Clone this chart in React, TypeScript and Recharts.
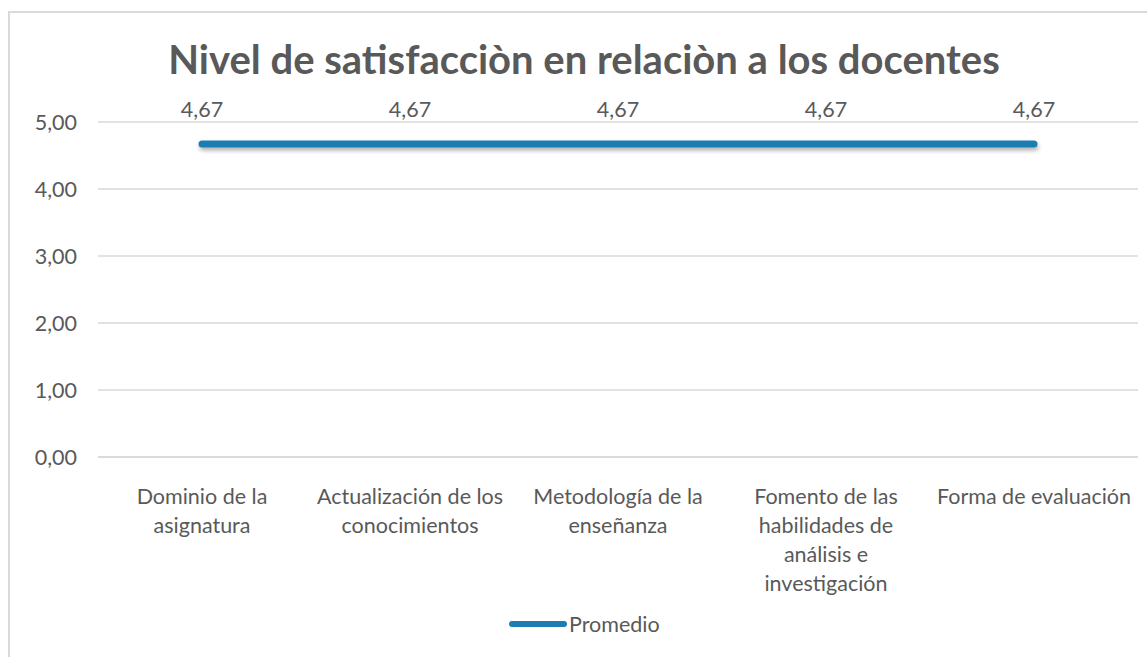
import { LabelList, Line, LineChart, CartesianGrid, XAxis, YAxis } from "recharts";

const categories = [
  "Dominio de la asignatura",
  "Actualización de los conocimientos",
  "Metodología de la enseñanza",
  "Fomento de las habilidades de análisis e investigación",
  "Forma de evaluación",
];
const categoryLines = [
  ["Dominio de la", "asignatura"],
  ["Actualización de los", "conocimientos"],
  ["Metodología de la", "enseñanza"],
  ["Fomento de las", "habilidades de", "análisis e", "investigación"],
  ["Forma de evaluación"],
];
const promedio = [4.67, 4.67, 4.67, 4.67, 4.67];
const yTicks = [0, 1, 2, 3, 4, 5];

const data = categories.map((name, i) => ({ name, promedio: promedio[i] }));

const FONT = "Lato, 'Open Sans', sans-serif";
const GRAY = "#595959";
const BLUE = "#1b7db1";
const FS = 21.5;

const fmt = (v: number) => v.toFixed(2).replace(".", ",");

function CategoryTick(props: any) {
  const { x, y, payload } = props;
  const lines = categoryLines[categories.indexOf(payload.value)] || [payload.value];
  return (
    <g transform={`translate(${x},${y})`}>
      {lines.map((l, i) => (
        <text key={i} x={0} y={39 + i * 29} textAnchor="middle" fill={GRAY} fontSize={FS} fontFamily={FONT}>
          {l}
        </text>
      ))}
    </g>
  );
}

function ValueLabel(props: any) {
  const { x, y, value } = props;
  return (
    <text x={x} y={y - 27} textAnchor="middle" fill={GRAY} fontSize={FS} fontFamily={FONT}>
      {fmt(value)}
    </text>
  );
}

export default function App() {
  return (
    <div style={{ position: "absolute", left: 0, top: 0, width: 1147, height: 657, background: "#fff", overflow: "hidden" }}>
      <div
        style={{
          position: "absolute",
          left: 8,
          top: 11,
          width: 1200,
          height: 700,
          borderLeft: "2px solid #d9d9d9",
          borderTop: "2px solid #d9d9d9",
        }}
      />
      <div
        style={{
          position: "absolute",
          left: 0,
          top: 33,
          width: 1168,
          textAlign: "center",
          fontFamily: FONT,
          fontWeight: 700,
          fontSize: 40,
          lineHeight: "52px",
          color: GRAY,
        }}
      >
        Nivel de satisfacciòn en relaciòn a los docentes
      </div>
      <div style={{ position: "absolute", left: 0, top: 0 }}>
        <LineChart width={1147} height={657} data={data} margin={{ top: 122, right: 9, bottom: 70, left: 8 }}>
          <defs>
            <filter id="lineShadow" filterUnits="userSpaceOnUse" x={0} y={0} width={1147} height={657}>
              <feDropShadow dx={1} dy={3} stdDeviation={2} floodColor="#000" floodOpacity={0.3} />
            </filter>
          </defs>
          <CartesianGrid vertical={false} stroke="#d9d9d9" strokeWidth={1.5} />
          <XAxis
            dataKey="name"
            axisLine={{ stroke: "#d9d9d9", strokeWidth: 1.5 }}
            tickLine={false}
            interval={0}
            height={130}
            padding={{ left: 104, right: 104 }}
            tick={<CategoryTick />}
          />
          <YAxis
            domain={[0, 5]}
            ticks={yTicks}
            width={90}
            axisLine={false}
            tickLine={false}
            tickSize={0}
            tickMargin={21}
            tickFormatter={fmt}
            tick={{ fill: GRAY, fontSize: FS, fontFamily: FONT }}
          />
          <Line
            dataKey="promedio"
            name="Promedio"
            stroke={BLUE}
            strokeWidth={7}
            strokeLinecap="round"
            dot={false}
            isAnimationActive={false}
            filter="url(#lineShadow)"
          >
            <LabelList dataKey="promedio" content={<ValueLabel />} />
          </Line>
        </LineChart>
      </div>
      <svg style={{ position: "absolute", left: 500, top: 609 }} width={200} height={30}>
        <line x1={12} y1={15} x2={64} y2={15} stroke={BLUE} strokeWidth={6} strokeLinecap="round" />
        <text x={69} y={23} fill={GRAY} fontSize={FS} fontFamily={FONT}>
          Promedio
        </text>
      </svg>
    </div>
  );
}
